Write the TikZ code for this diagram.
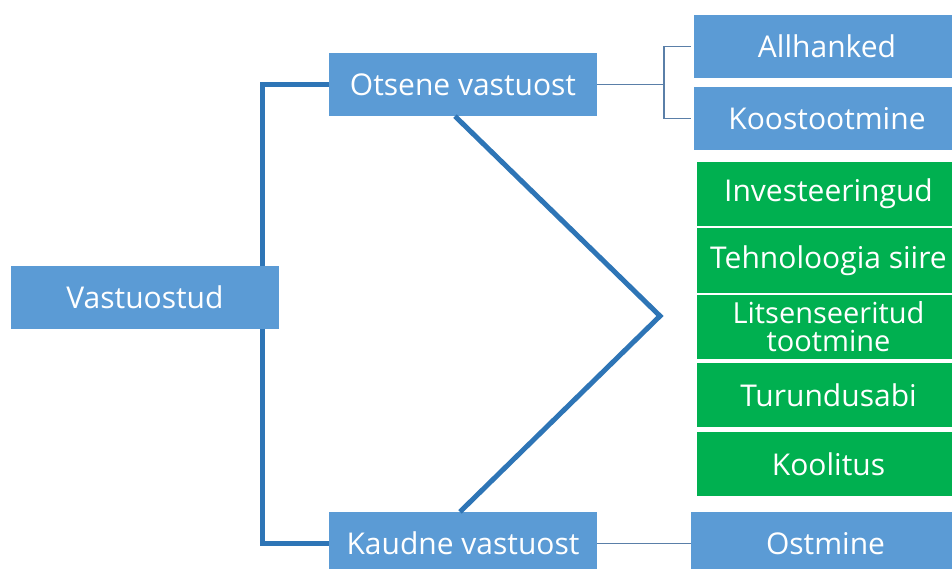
\documentclass[tikz,border=0pt]{standalone}
\usepackage{fontspec}
\setmainfont{Open Sans}
\definecolor{boxblue}{HTML}{5B9BD5}
\definecolor{boxgreen}{HTML}{00B050}
\definecolor{linkblue}{HTML}{2E75B6}
\definecolor{thinblue}{HTML}{5A7FA8}
\begin{document}
\begin{tikzpicture}[x=1pt,y=-1pt,
  bbox/.style={fill=boxblue,text=white,inner sep=0pt,minimum height=63pt,
    font=\fontsize{30}{32}\selectfont},
  gbox/.style={fill=boxgreen,text=white,inner sep=0pt,minimum height=64pt,minimum width=263pt,align=center,
    font=\fontsize{30}{32}\selectfont},
  thickline/.style={draw=linkblue,line width=5pt},
  thinline/.style={draw=thinblue,line width=1.6pt}]
\clip (0,0) rectangle (952,569);
\fill[white] (0,0) rectangle (952,569);
\node[bbox,minimum width=268pt] (V) at (145,297.5) {Vastuostud};
\node[bbox,minimum width=268pt] (O) at (463,84.5) {Otsene vastuost};
\node[bbox,minimum width=268pt] (K) at (463,543.5) {Kaudne vastuost};
\node[bbox,minimum width=266pt] (A) at (827,46.5) {Allhanked};
\node[bbox,minimum width=266pt] (Ko) at (827,118.5) {Koostootmine};
\node[gbox] (I) at (828.5,194) {Investeeringud};
\node[gbox] (T) at (828.5,260.5) {Tehnoloogia siire};
\node[gbox,font=\fontsize{29}{28}\selectfont] (L) at (828.5,326.5) {Litsenseeritud\\tootmine};
\node[gbox] (Tu) at (828.5,395) {Turundusabi};
\node[gbox] (Kl) at (828.5,464) {Koolitus};
\node[bbox,minimum width=269pt] (Os) at (825.5,543.5) {Ostmine};
\coordinate (apex) at (660,316);
\coordinate (br) at (664,84.5);
\draw[thickline] ([xshift=-17pt]V.north east) |- (O.west);
\draw[thickline] ([xshift=-17pt]V.south east) |- (K.west);
\draw[thickline,line join=miter] ([xshift=-8pt]O.south) -- (apex) -- ([xshift=-3pt]K.north);
\draw[thinline] (O.east) -- (br);
\draw[thinline] ([xshift=-3pt]A.west) -| (br) |- ([xshift=-3pt]Ko.west);
\draw[thinline] (K.east) -- (Os.west);
\end{tikzpicture}
\end{document}
